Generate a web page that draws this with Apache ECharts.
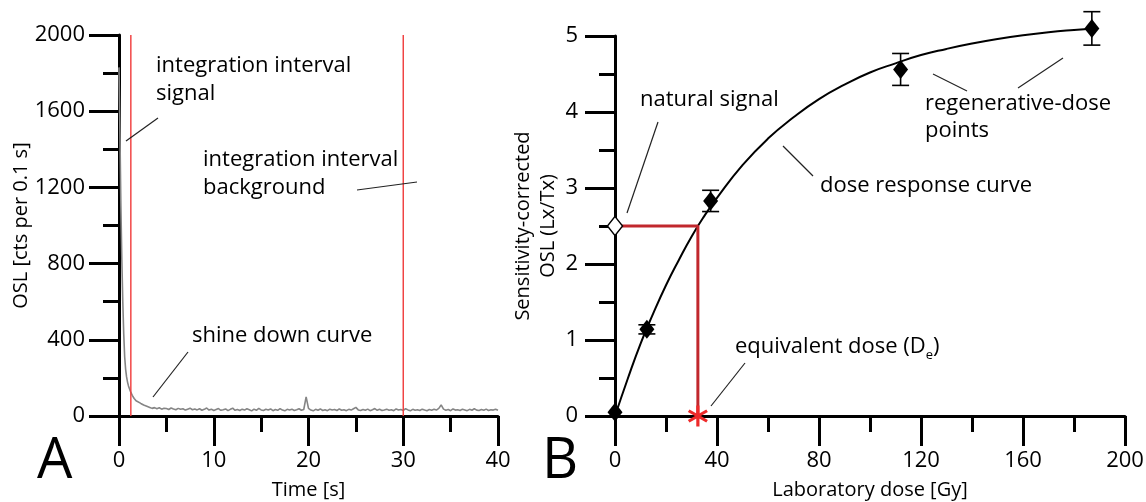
<!DOCTYPE html>
<html>
<head>
<meta charset="utf-8">
<script src="https://cdn.jsdelivr.net/npm/echarts@6.0.0/dist/echarts.min.js"></script>
<style>
  html, body { margin: 0; padding: 0; background: #fff; }
  #main { width: 1146px; height: 502px; }
</style>
</head>
<body>
<div id="main"></div>
<script>
// panel A: OSL shine down curve
var oslTime = [0, 0.1, 0.2, 0.3, 0.4, 0.5, 0.6, 0.7, 0.8, 0.9, 1.0, 1.2, 1.4, 1.6, 1.8, 2.0, 2.3, 2.6, 3.0,
  3.25, 3.5, 3.75, 4, 4.25, 4.5, 4.75, 5, 5.25, 5.5, 5.75, 6, 6.25, 6.5, 6.75, 7, 7.25, 7.5, 7.75, 8,
  8.25, 8.5, 8.75, 9, 9.25, 9.5, 9.75, 10, 10.25, 10.5, 10.75, 11, 11.25, 11.5, 11.75, 12, 12.25, 12.5, 12.75, 13,
  13.25, 13.5, 13.75, 14, 14.25, 14.5, 14.75, 15, 15.25, 15.5, 15.75, 16, 16.25, 16.5, 16.75, 17, 17.25, 17.5, 17.75, 18,
  18.25, 18.5, 18.75, 19, 19.25, 19.5, 19.75, 20, 20.25, 20.5, 20.75, 21, 21.25, 21.5, 21.75, 22, 22.25, 22.5, 22.75, 23,
  23.25, 23.5, 23.75, 24, 24.25, 24.5, 24.75, 25, 25.25, 25.5, 25.75, 26, 26.25, 26.5, 26.75, 27, 27.25, 27.5, 27.75, 28,
  28.25, 28.5, 28.75, 29, 29.25, 29.5, 29.75, 30, 30.25, 30.5, 30.75, 31, 31.25, 31.5, 31.75, 32, 32.25, 32.5, 32.75, 33,
  33.25, 33.5, 33.75, 34, 34.25, 34.5, 34.75, 35, 35.25, 35.5, 35.75, 36, 36.25, 36.5, 36.75, 37, 37.25, 37.5, 37.75, 38,
  38.25, 38.5, 38.75, 39, 39.25, 39.5, 39.75, 40];
var oslCounts = [1830, 1480, 1100, 820, 600, 430, 310, 245, 205, 178, 158, 130, 108, 92, 80, 72, 66, 58, 50,
  45, 40, 44, 38, 43, 36, 41, 39, 34, 42, 37, 33, 40, 35, 38, 31, 36, 41, 33, 37,
  32, 38, 30, 35, 42, 31, 36, 29, 34, 39, 30, 33, 37, 28, 35, 41, 30, 34, 29, 36,
  31, 38, 33, 27, 36, 30, 40, 32, 29, 35, 31, 37, 28, 34, 30, 39, 31, 27, 35, 32,
  36, 29, 33, 38, 30, 34, 100, 40, 31, 27, 35, 30, 37, 29, 33, 28, 36, 31, 34, 29,
  37, 30, 33, 28, 35, 31, 38, 45, 32, 29, 34, 30, 36, 28, 33, 39, 30, 35, 29, 32,
  36, 30, 33, 28, 37, 31, 34, 29, 38, 32, 27, 35, 30, 33, 29, 36, 31, 28, 34, 30,
  35, 31, 40, 58, 36, 30, 34, 28, 37, 31, 33, 29, 36, 32, 28, 35, 30, 38, 31, 29,
  34, 30, 36, 29, 33, 31, 35, 30];
var integrationLimits = [1.25, 30];   // red lines, s

// panel B: dose response
var regenDose = [0, 12.5, 37.5, 112, 187];
var regenLx = [0.05, 1.14, 2.83, 4.56, 5.1];
var regenErr = [0, 0.06, 0.14, 0.21, 0.22];
var curveDose = [0, 5, 10, 15, 20, 25, 30, 35, 40, 50, 60, 70, 80, 90, 100, 110, 120, 130, 140, 150, 160, 170, 180, 188];
var curveLx = [0, 0.49, 0.95, 1.35, 1.72, 2.05, 2.36, 2.63, 2.87, 3.30, 3.65, 3.93, 4.17, 4.36, 4.52, 4.64, 4.75, 4.83, 4.90, 4.96, 5.01, 5.05, 5.08, 5.10];
var naturalLx = 2.5;
var equivDose = 32.5;

var FONT = "'Open Sans', sans-serif";
var chart = echarts.init(document.getElementById('main'), null, { renderer: 'canvas' });

function zip(a, b) {
  return a.map(function (v, i) { return [v, b[i]]; });
}

function axisStyle(o) {
  var base = {
    axisLine: { show: true, onZero: false, lineStyle: { color: '#000', width: 3 } },
    axisTick: { show: true, inside: false, length: 30, lineStyle: { color: '#000', width: 3 } },
    minorTick: { show: true, splitNumber: 2, length: 16, lineStyle: { color: '#000', width: 3 } },
    splitLine: { show: false },
    minorSplitLine: { show: false },
    axisLabel: { color: '#000', fontSize: 22, fontFamily: FONT, margin: 34,
      formatter: function (v) { return String(v); } },
    nameTextStyle: { color: '#000', fontSize: 20, fontFamily: FONT },
    nameLocation: 'middle',
    nameMoveOverlap: false
  };
  return Object.assign(base, o);
}

var textStyle = { fontSize: 22, fontFamily: FONT, fill: '#000' };
function label(x, y, txt) {
  return { type: 'text', x: x, y: y, z: 100,
    style: Object.assign({ text: txt, textAlign: 'left', textVerticalAlign: 'middle' }, textStyle) };
}
function leader(x1, y1, x2, y2) {
  return { type: 'line', z: 100, shape: { x1: x1, y1: y1, x2: x2, y2: y2 },
    style: { stroke: '#222', lineWidth: 1.2 } };
}

// asterisk symbol for De
var star = 'path://M-1.5,-10 L1.5,-10 L1.5,10 L-1.5,10 Z ' +
  'M-9.41,-3.7 L-7.91,-6.3 L9.41,3.7 L7.91,6.3 Z ' +
  'M-7.91,6.3 L-9.41,3.7 L7.91,-6.3 L9.41,-3.7 Z';

var option = {
  animation: false,
  backgroundColor: '#fff',
  grid: [
    { left: 119, top: 35, width: 379, height: 381, outerBoundsMode: 'none' },
    { left: 615, top: 36, width: 510, height: 380, outerBoundsMode: 'none' }
  ],
  xAxis: [
    axisStyle({ gridIndex: 0, type: 'value', min: 0, max: 40, interval: 10,
      name: 'Time [s]', nameGap: 64 }),
    axisStyle({ gridIndex: 1, type: 'value', min: 0, max: 200, interval: 40,
      name: 'Laboratory dose [Gy]', nameGap: 64 })
  ],
  yAxis: [
    axisStyle({ gridIndex: 0, type: 'value', min: 0, max: 2000, interval: 400,
      name: 'OSL [cts per 0.1 s]', nameGap: 88 }),
    axisStyle({ gridIndex: 1, type: 'value', min: 0, max: 5, interval: 1,
      name: 'Sensitivity-corrected\nOSL (Lx/Tx)', nameGap: 54,
      nameTextStyle: { color: '#000', fontSize: 20, fontFamily: FONT, lineHeight: 25 },
      axisLabel: { color: '#000', fontSize: 22, fontFamily: FONT, margin: 37 } })
  ],
  series: [
    {
      type: 'line', xAxisIndex: 0, yAxisIndex: 0,
      data: zip(oslTime, oslCounts),
      symbol: 'none', clip: false,
      lineStyle: { color: '#858585', width: 1.6 }
    },
    {
      type: 'line', xAxisIndex: 0, yAxisIndex: 0,
      data: [[integrationLimits[0], 0], [integrationLimits[0], 2000]],
      symbol: 'none', lineStyle: { color: '#f03a3a', width: 1.4 }, z: 5
    },
    {
      type: 'line', xAxisIndex: 0, yAxisIndex: 0,
      data: [[integrationLimits[1], 0], [integrationLimits[1], 2000]],
      symbol: 'none', lineStyle: { color: '#f03a3a', width: 1.4 }, z: 5
    },
    {
      type: 'line', xAxisIndex: 1, yAxisIndex: 1,
      data: zip(curveDose, curveLx),
      symbol: 'none', smooth: true, clip: false,
      lineStyle: { color: '#000', width: 2 }
    },
    {
      type: 'line', xAxisIndex: 1, yAxisIndex: 1,
      data: [[0, naturalLx], [equivDose, naturalLx], [equivDose, 0]],
      symbol: 'none', lineStyle: { color: '#c1272d', width: 3 }, z: 4
    },
    {
      type: 'custom', xAxisIndex: 1, yAxisIndex: 1, clip: false, z: 6,
      data: regenDose.map(function (d, i) { return [d, regenLx[i] - regenErr[i], regenLx[i] + regenErr[i]]; })
        .filter(function (r) { return r[2] - r[1] > 0; }),
      renderItem: function (params, api) {
        var lo = api.coord([api.value(0), api.value(1)]);
        var hi = api.coord([api.value(0), api.value(2)]);
        var w = 8.5;
        var st = { stroke: '#000', lineWidth: 1.6 };
        return { type: 'group', children: [
          { type: 'line', shape: { x1: lo[0], y1: lo[1], x2: hi[0], y2: hi[1] }, style: st },
          { type: 'line', shape: { x1: lo[0] - w, y1: lo[1], x2: lo[0] + w, y2: lo[1] }, style: st },
          { type: 'line', shape: { x1: hi[0] - w, y1: hi[1], x2: hi[0] + w, y2: hi[1] }, style: st }
        ] };
      }
    },
    {
      type: 'scatter', xAxisIndex: 1, yAxisIndex: 1, clip: false, z: 8,
      data: zip(regenDose, regenLx),
      symbol: 'diamond', symbolSize: [15, 19],
      itemStyle: { color: '#000', opacity: 1 }
    },
    {
      type: 'scatter', xAxisIndex: 1, yAxisIndex: 1, clip: false, z: 8,
      data: [[0, naturalLx]],
      symbol: 'diamond', symbolSize: [15, 19],
      itemStyle: { color: '#fff', borderColor: '#000', borderWidth: 1.5, opacity: 1 }
    },
    {
      type: 'scatter', xAxisIndex: 1, yAxisIndex: 1, clip: false, z: 9,
      data: [[equivDose, 0]],
      symbol: star, symbolSize: [20, 21],
      itemStyle: { color: '#ee2a2a', opacity: 1 }
    }
  ],
  graphic: [
    { type: 'text', x: 37, y: 462, z: 100,
      style: { text: 'A', fontSize: 56, fontFamily: FONT, fill: '#000', textVerticalAlign: 'middle' } },
    { type: 'text', x: 542, y: 462, z: 100,
      style: { text: 'B', fontSize: 56, fontFamily: FONT, fill: '#000', textVerticalAlign: 'middle' } },
    label(156, 66, 'integration interval'),
    label(156, 94, 'signal'),
    leader(158, 118, 126, 141),
    label(203, 160, 'integration interval'),
    label(203, 188, 'background'),
    leader(357, 190, 417, 182),
    label(192, 336, 'shine down curve'),
    leader(188, 352, 153, 397),
    label(640, 100, 'natural signal'),
    leader(658, 122, 627, 213),
    label(925, 104, 'regenerative-dose'),
    label(925, 131, 'points'),
    leader(933, 74, 967, 91),
    leader(1018, 88, 1063, 58),
    label(820, 186, 'dose response curve'),
    leader(783, 146, 813, 176),
    { type: 'text', x: 735, y: 347, z: 100,
      style: { text: '{n|equivalent dose (D}{s|e}{n|)}', textVerticalAlign: 'middle',
        rich: {
          n: { fontSize: 22, fontFamily: FONT, color: '#000' },
          s: { fontSize: 13, fontFamily: FONT, color: '#000', padding: [16, 0, 0, 0] }
        } } },
    leader(745, 363, 711, 406)
  ]
};

chart.setOption(option);
</script>
</body>
</html>
